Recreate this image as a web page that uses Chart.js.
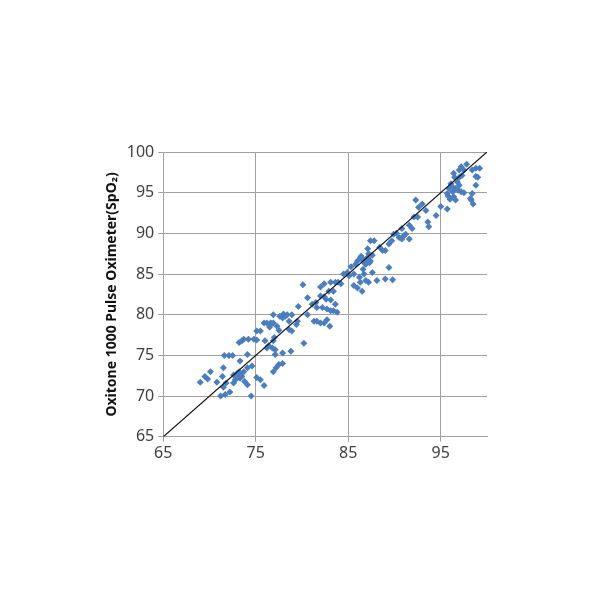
<!DOCTYPE html>
<html>
<head>
<meta charset="utf-8">
<script src="https://cdn.jsdelivr.net/npm/chart.js@4.4.1/dist/chart.umd.min.js"></script>
<style>
  html, body { margin: 0; padding: 0; background: #fff; }
  #wrap { width: 600px; height: 600px; }
</style>
</head>
<body>
<div id="wrap"><canvas id="myChart" width="600" height="600"></canvas></div>
<script>
// reference SaO2 (x) and Oxitone reading (y)
const refSaO2 = [
  69.0, 69.5, 69.8, 70.1, 70.8, 71.2, 71.5, 71.4, 71.5, 71.6, 72.1, 72.5, 71.7, 72.2, 71.8, 72.6,
  72.6, 73.0, 73.2, 73.3, 73.7, 74.1, 73.3, 73.5, 73.8, 74.1, 73.2, 73.5, 73.7, 74.2, 74.8, 74.1,
  74.5, 74.6, 75.1, 75.1, 75.5, 75.1, 75.5, 75.9, 75.9, 76.2, 76.6, 76.0, 76.2, 76.4, 76.8, 76.9,
  77.1, 77.0, 76.9, 77.3, 76.9, 77.5, 76.9, 77.2, 77.5, 77.9, 77.1, 77.9, 78.2, 78.4, 78.6, 77.9,
  78.9, 78.6, 78.9, 79.4, 79.5, 78.8, 79.6, 80.2, 80.1, 80.6, 80.6, 81.1, 81.3, 81.6, 82.0, 82.4,
  82.7, 83.0, 81.5, 81.6, 82.0, 82.0, 82.4, 82.4, 82.9, 83.1, 83.6, 83.4, 83.1, 83.6, 82.7, 83.1,
  83.4, 83.8, 83.9, 84.2, 84.5, 84.9, 85.3, 85.6, 85.8, 86.0, 85.6, 86.0, 86.5, 86.2, 86.7, 86.3,
  86.9, 87.2, 87.6, 86.3, 86.7, 87.1, 87.4, 87.2, 87.1, 86.9, 87.4, 87.8, 87.6, 88.1, 88.7, 89.0,
  89.0, 89.4, 89.8, 89.4, 89.7, 89.9, 90.5, 90.8, 90.8, 91.2, 91.6, 91.6, 91.9, 92.1, 92.5, 92.3,
  92.6, 93.0, 93.4, 93.6, 93.7, 94.5, 95.0, 95.7, 95.7, 95.9, 96.1, 96.3, 96.4, 96.6, 96.6, 96.8,
  96.4, 97.0, 97.0, 97.2, 97.5, 97.2, 97.5, 97.0, 97.8, 98.4, 98.8, 99.2, 98.8, 99.0, 98.8, 98.4,
  98.3, 98.5, 98.2, 86.5, 86.8, 87.0, 86.6, 86.4, 87.3, 96.0, 96.2, 96.5, 96.9, 97.3, 95.8, 72.8,
  73.0, 73.4, 76.5, 76.7, 77.6, 78.0, 82.2, 82.6, 85.1, 88.4, 90.2, 91.0
];
const oxitoneSpO2 = [
  71.7, 72.4, 72.1, 73.0, 71.7, 70.0, 71.1, 72.4, 73.5, 75.0, 75.0, 75.0, 70.2, 70.5, 71.6, 71.6,
  72.6, 72.6, 73.0, 74.3, 73.0, 73.5, 72.2, 72.4, 71.8, 71.4, 76.6, 76.8, 77.0, 77.0, 77.0, 75.1,
  70.0, 73.7, 76.9, 78.0, 78.0, 72.3, 72.0, 71.3, 79.0, 79.0, 79.0, 76.8, 75.9, 76.2, 75.9, 76.8,
  75.7, 77.2, 79.0, 78.6, 80.0, 78.1, 73.0, 73.5, 73.9, 74.0, 75.1, 75.3, 79.8, 80.0, 79.2, 79.6,
  80.0, 78.2, 78.0, 78.8, 79.2, 75.5, 81.0, 76.5, 83.7, 82.1, 80.0, 81.3, 79.2, 79.2, 79.0, 79.0,
  79.4, 78.6, 81.5, 80.9, 82.3, 83.4, 83.8, 82.2, 82.9, 84.0, 84.0, 82.9, 81.8, 81.3, 80.7, 80.5,
  80.5, 80.3, 84.0, 83.8, 85.0, 85.2, 85.9, 85.0, 86.2, 86.6, 83.6, 83.3, 82.9, 84.6, 85.0, 84.0,
  84.2, 84.0, 85.2, 87.0, 86.6, 87.0, 86.6, 87.5, 88.1, 86.2, 89.1, 89.1, 87.3, 84.2, 87.9, 87.9,
  84.4, 85.8, 84.3, 88.7, 89.1, 89.9, 89.5, 90.6, 89.3, 89.9, 89.3, 91.0, 90.6, 92.0, 92.0, 94.1,
  93.2, 93.6, 92.8, 91.4, 90.8, 92.2, 93.3, 93.0, 94.9, 95.5, 96.1, 95.1, 94.5, 94.1, 95.5, 96.3,
  97.4, 96.9, 97.8, 98.2, 97.8, 95.1, 95.0, 95.9, 98.5, 97.8, 98.0, 98.0, 97.0, 96.9, 95.9, 94.9,
  94.1, 93.6, 94.3, 86.8, 86.3, 86.9, 85.6, 87.2, 86.4, 94.2, 95.8, 96.9, 95.3, 97.1, 94.6, 72.0,
  72.8, 72.5, 78.5, 78.9, 79.8, 80.1, 80.9, 81.9, 84.8, 88.3, 90.0, 89.7
];
const identityLine = [65, 100];
const xTicks = [65, 75, 85, 95];
const yTicks = [65, 70, 75, 80, 85, 90, 95, 100];

const points = refSaO2.map((x, i) => ({ x: x, y: oxitoneSpO2[i] }));
const linePts = identityLine.map((v) => ({ x: v, y: v }));

const ctx = document.getElementById("myChart").getContext("2d");
new Chart(ctx, {
  type: "scatter",
  data: {
    datasets: [
      {
        type: "line",
        data: linePts,
        borderColor: "#111",
        borderWidth: 1.2,
        pointRadius: 0,
        fill: false,
      },
      {
        data: points,
        pointStyle: "rectRot",
        pointRadius: 3.5,
        backgroundColor: "#4a7ebf",
        borderColor: "#4a7ebf",
        borderWidth: 0,
      },
    ],
  },
  options: {
    responsive: false,
    animation: false,
    layout: { padding: { left: 102, right: 113, top: 152, bottom: 135 } },
    plugins: { legend: { display: false }, tooltip: { enabled: false } },
    scales: {
      x: {
        type: "linear",
        min: 65,
        max: 100,
        afterBuildTicks: (axis) => { axis.ticks = xTicks.map((v) => ({ value: v })); },
        grid: { color: "#a0a0a0", tickLength: 5, drawOnChartArea: true },
        border: { color: "#a0a0a0" },
        ticks: { font: { family: "Noto Sans", size: 16 }, color: "#404040", padding: 2 },
      },
      y: {
        type: "linear",
        min: 65,
        max: 100,
        afterBuildTicks: (axis) => { axis.ticks = yTicks.map((v) => ({ value: v })); },
        grid: { color: "#a0a0a0", tickLength: 5 },
        border: { color: "#a0a0a0" },
        ticks: { font: { family: "Noto Sans", size: 16 }, color: "#404040", padding: 4 },
        title: {
          display: true,
          text: "Oxitone 1000 Pulse Oximeter(SpO\u2082)",
          font: { family: "Noto Sans", size: 14, weight: "bold" },
          color: "#111",
          padding: 2,
        },
      },
    },
  },
});
</script>
</body>
</html>
